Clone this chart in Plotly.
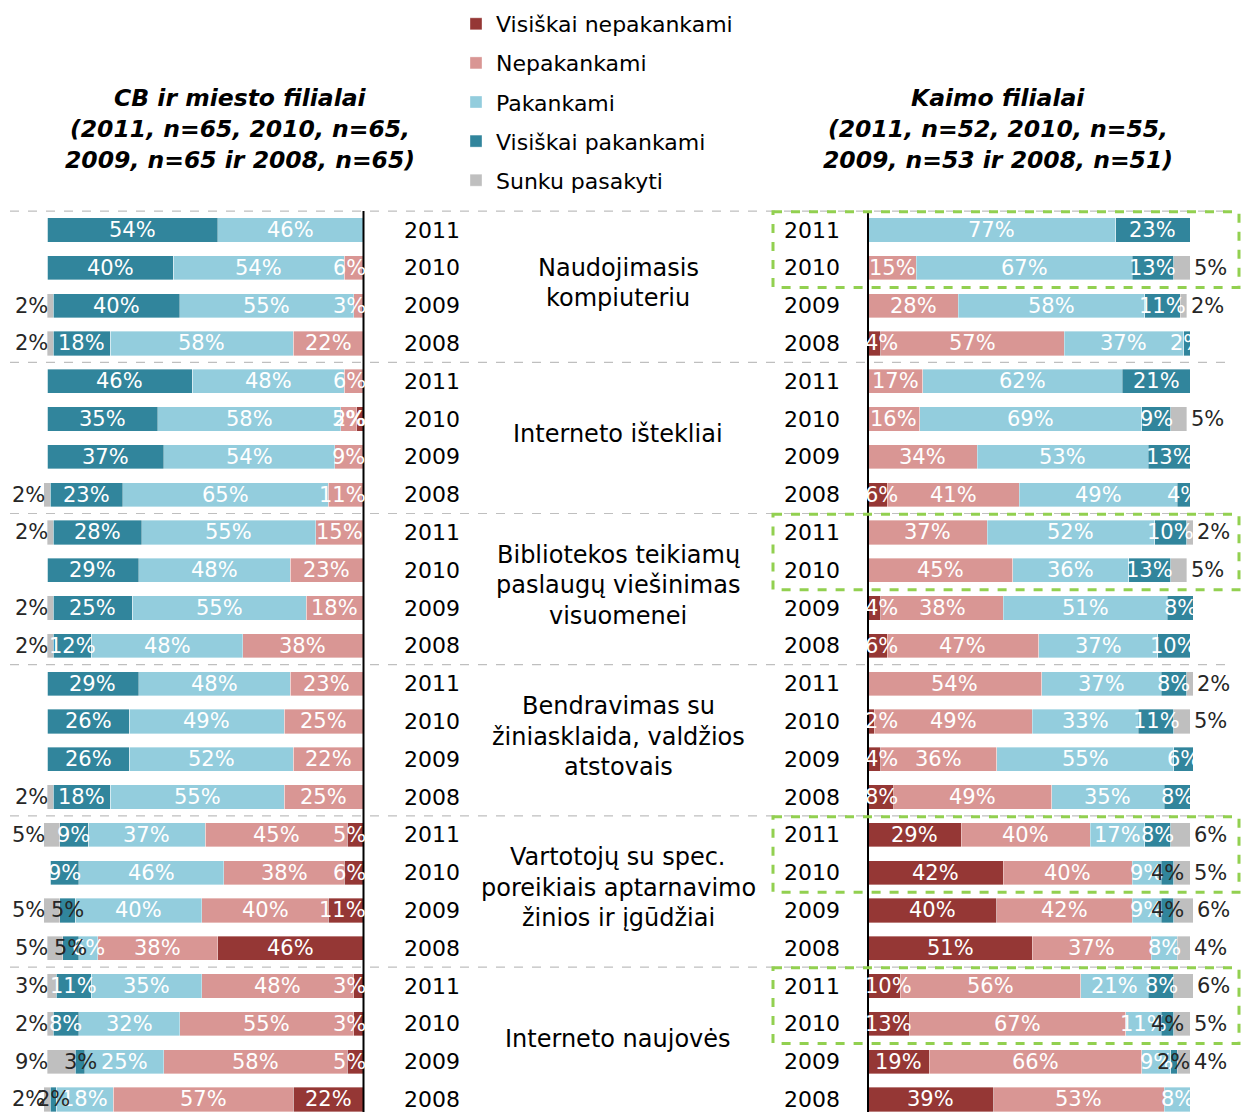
import plotly.graph_objects as go

W, H = 1243, 1112
FONT = "DejaVu Sans"

categories = [
    ["Naudojimasis", "kompiuteriu"],
    ["Interneto ištekliai"],
    ["Bibliotekos teikiamų", "paslaugų viešinimas", "visuomenei"],
    ["Bendravimas su", "žiniasklaida, valdžios", "atstovais"],
    ["Vartotojų su spec.", "poreikiais aptarnavimo", "žinios ir įgūdžiai"],
    ["Interneto naujovės"],
]
years = ["2011", "2010", "2009", "2008"]
series_names = ["Visiškai nepakankami", "Nepakankami", "Pakankami", "Visiškai pakankami", "Sunku pasakyti"]
colors = ["#953735", "#D99694", "#93CDDD", "#31859C", "#BFBFBF"]

# CB ir miesto filialai (rows: category x year 2011..2008)
cb_vis_nep = [0, 0, 0, 0, 0, 2, 0, 0, 0, 0, 0, 0, 0, 0, 0, 0, 5, 6, 11, 46, 3, 3, 5, 22]
cb_nep = [0, 6, 3, 22, 6, 5, 9, 11, 15, 23, 18, 38, 23, 25, 22, 25, 45, 38, 40, 38, 48, 55, 58, 57]
cb_pak = [46, 54, 55, 58, 48, 58, 54, 65, 55, 48, 55, 48, 48, 49, 52, 55, 37, 46, 40, 6, 35, 32, 25, 18]
cb_vis_pak = [54, 40, 40, 18, 46, 35, 37, 23, 28, 29, 25, 12, 29, 26, 26, 18, 9, 9, 5, 5, 11, 8, 3, 2]
cb_sunku = [0, 0, 2, 2, 0, 0, 0, 2, 2, 0, 2, 2, 0, 0, 0, 2, 5, 0, 5, 5, 3, 2, 9, 2]

# Kaimo filialai
k_vis_nep = [0, 0, 0, 4, 0, 0, 0, 6, 0, 0, 4, 6, 0, 2, 4, 8, 29, 42, 40, 51, 10, 13, 19, 39]
k_nep = [0, 15, 28, 57, 17, 16, 34, 41, 37, 45, 38, 47, 54, 49, 36, 49, 40, 40, 42, 37, 56, 67, 66, 53]
k_pak = [77, 67, 58, 37, 62, 69, 53, 49, 52, 36, 51, 37, 37, 33, 55, 35, 17, 9, 9, 8, 21, 11, 9, 8]
k_vis_pak = [23, 13, 11, 2, 21, 9, 13, 4, 10, 13, 8, 10, 8, 11, 6, 8, 8, 4, 4, 0, 8, 4, 2, 0]
k_sunku = [0, 5, 2, 0, 0, 5, 0, 0, 2, 5, 0, 0, 2, 5, 0, 0, 6, 5, 6, 4, 6, 5, 4, 0]

highlight_groups = [0, 2, 4, 5]  # Kaimo groups framed with green dashed boxes (2011-2010)

rows = list(range(len(categories) * len(years)))

# pixel geometry helpers
ROW0, ROWSTEP = 230.0, 37.8
y_top = -ROW0 / ROWSTEP
y_bot = (H - ROW0) / ROWSTEP

LEFT_X0, LEFT_X1 = 47, 363      # pixel span of 100%..0% (left panel, reversed)
RIGHT_X0, RIGHT_X1 = 868, 1190  # pixel span of 0%..100% (right panel)
XMAX = 103                      # axis range max (room for sums above 100)
LBL = 21
L_SCALE = (LEFT_X1 - LEFT_X0) / 100
R_SCALE = (RIGHT_X1 - RIGHT_X0) / 100


def px(x):
    return x / W


def py(p):
    return 1 - p / H


def text_w(s, size):
    w = 0
    for ch in s:
        w += 0.95 if ch == "%" else 0.636
    return w * size


fig = go.Figure()

cb = [cb_vis_nep, cb_nep, cb_pak, cb_vis_pak, cb_sunku]
kb = [k_vis_nep, k_nep, k_pak, k_vis_pak, k_sunku]

annotations = []
shapes = []

for panel, (data, xa) in enumerate([(cb, "x"), (kb, "x2")]):
    for si, (name, col, vals) in enumerate(zip(series_names, colors, data)):
        fig.add_trace(go.Bar(
            y=rows, x=vals, orientation="h", name=name,
            marker=dict(color=col, line=dict(color="rgba(255,255,255,0.6)", width=0.6)),
            xaxis=xa, yaxis="y",
            showlegend=(panel == 0), legendgroup=name,
            hoverinfo="skip",
        ))
    # value labels
    scale = L_SCALE if panel == 0 else R_SCALE
    xref = "x" if panel == 0 else "x2"
    for r in rows:
        cum = 0
        gray = data[4][r]
        for si in range(5):
            v = data[si][r]
            if not v:
                continue
            label = f"{v}%"
            if si == 4:
                # outside the bar end
                annotations.append(dict(
                    x=cum + v, y=r, xref=xref, yref="y", text=label, showarrow=False,
                    xanchor="right" if panel == 0 else "left", yanchor="middle",
                    xshift=3 if panel == 0 else 2,
                    font=dict(size=LBL, color="#262626", family=FONT)))
            else:
                c = cum + v / 2
                hw = text_w(label, LBL) / 2
                cmin = (hw - 3) / scale
                c = max(c, cmin)
                dark = (si == 3 and v <= 5 and gray > 0)
                annotations.append(dict(
                    x=c, y=r, xref=xref, yref="y", text=label, showarrow=False,
                    xanchor="center", yanchor="middle",
                    font=dict(size=LBL, color="#262626" if dark else "white", family=FONT)))
            cum += v

# year labels
for r in rows:
    yr = years[r % 4]
    for xc in (432, 812):
        annotations.append(dict(x=px(xc), y=r, xref="paper", yref="y", text=yr,
                                showarrow=False, xanchor="center", yanchor="middle",
                                font=dict(size=22, color="black", family=FONT)))

# category labels
for g, lines in enumerate(categories):
    center = g * 4 + 1.4
    n = len(lines)
    for k, line in enumerate(lines):
        yv = center + (k - (n - 1) / 2) * (30.5 / ROWSTEP)
        annotations.append(dict(x=px(618), y=yv, xref="paper", yref="y", text=line,
                                showarrow=False, xanchor="center", yanchor="middle",
                                font=dict(size=24, color="black", family=FONT)))

# panel titles
titles = [
    (240, ["CB ir miesto filialai", "(2011, n=65, 2010, n=65,", "2009, n=65 ir 2008, n=65)"]),
    (998, ["Kaimo filialai", "(2011, n=52, 2010, n=55,", "2009, n=53 ir 2008, n=51)"]),
]
for xc, lines in titles:
    for k, line in enumerate(lines):
        annotations.append(dict(x=px(xc), y=py(98 + k * 31), xref="paper", yref="paper",
                                text=f"<b><i>{line}</i></b>", showarrow=False,
                                xanchor="center", yanchor="middle",
                                font=dict(size=23.5, color="black", family=FONT)))

# dashed separators
for g in range(len(categories)):
    yv = g * 4 - 0.5
    shapes.append(dict(type="line", xref="paper", yref="y", x0=px(10), x1=px(1233), y0=yv, y1=yv,
                       line=dict(color="#BFBFBF", width=1.2, dash="dash"), layer="below"))

# vertical axis lines
for xc in (363.5, 868):
    shapes.append(dict(type="line", xref="paper", yref="y", x0=px(xc), x1=px(xc), y0=-0.5, y1=y_bot,
                       line=dict(color="black", width=2)))

# green highlight boxes
for g in highlight_groups:
    shapes.append(dict(type="rect", xref="paper", yref="y", x0=px(773), x1=px(1239),
                       y0=g * 4 - 0.48, y1=g * 4 + 1.52,
                       line=dict(color="#92D050", width=3, dash="dash")))

hide = dict(showgrid=False, zeroline=False, showticklabels=False, showline=False, ticks="")

fig.update_layout(
    width=W, height=H,
    margin=dict(l=0, r=0, t=0, b=0),
    paper_bgcolor="white", plot_bgcolor="white",
    barmode="stack", bargap=0.36,
    font=dict(family=FONT, color="black"),
    xaxis=dict(domain=[px(LEFT_X1 - XMAX * L_SCALE), px(LEFT_X1)], range=[XMAX, 0], anchor="y", **hide),
    xaxis2=dict(domain=[px(RIGHT_X0), px(RIGHT_X0 + XMAX * R_SCALE)], range=[0, XMAX], anchor="y", **hide),
    yaxis=dict(domain=[0, 1], range=[y_bot, y_top], **hide),
    legend=dict(x=px(456), y=py(3), xanchor="left", yanchor="top",
                font=dict(size=22, family=FONT, color="black"),
                tracegroupgap=7.5, bgcolor="rgba(0,0,0,0)", itemclick=False),
    annotations=annotations,
    shapes=shapes,
)

fig.write_html("out.html", config={"displayModeBar": False},
               post_script="document.body.style.margin='0';document.body.style.overflow='hidden';")
